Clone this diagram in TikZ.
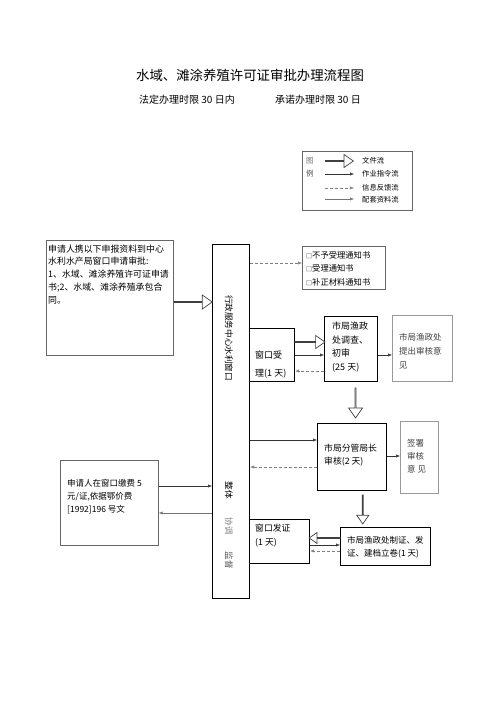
\documentclass[tikz,border=0pt]{standalone}
\usepackage{fontspec}
\setmainfont{Noto Sans CJK SC}
\usetikzlibrary{arrows.meta,shapes.arrows,calc}
\newcommand\myfs[2]{\fontsize{#1}{#2}\selectfont}
\newcommand\sqbox{{\fontsize{6}{6}\selectfont □}}
\begin{document}
\begin{tikzpicture}[x=1pt,y=-1pt,
 box/.style={draw=black, line width=1.1pt, inner sep=0pt, anchor=north west},
 gbox/.style={draw=black!60, line width=0.7pt, inner sep=0pt, anchor=north west},
 lbox/.style={draw=black!40, line width=0.7pt, inner sep=0pt, anchor=north west},
 txt/.style={anchor=north west, inner sep=0pt, align=left, text=black},
 lbl/.style={anchor=west, inner sep=0pt, text=black},
 flow/.style={draw=black!80, line width=0.5pt, -{Latex[length=4pt,width=3.2pt]}},
 fb/.style={draw=black!50, line width=0.5pt, dash pattern=on 3pt off 2pt, -{Latex[length=4pt,width=3.2pt]}},
 mat/.style={draw=black!55, line width=0.5pt, -{Latex[length=4pt,width=3.2pt]}},
 hollow/.style={single arrow, draw=black!75, line width=0.7pt, fill=white, inner sep=0pt,
   minimum width=13pt, single arrow head extend=4pt, single arrow tip angle=70,
   single arrow head indent=0pt},
]
\useasboundingbox (0,0) rectangle (500,708);

% helper heights
\foreach \h in {161,174,188,198,263,302,342,355,371,440,456,467,486,513,538,545,551}
  {\coordinate (Y\h) at (0,\h);}

% title
\node[font=\myfs{13.4}{16}, text=black] (title) at (250,75) {水域、滩涂养殖许可证审批办理流程图};
\node[lbl, font=\myfs{10}{12}] (st1) at (139,100) {法定办理时限 30 日内};
\node[lbl, font=\myfs{10}{12}] (st2) at (275,100) {承诺办理时限 30 日};

% legend
\node[gbox, minimum width=110pt, minimum height=59pt] (leg) at (302,151) {};
\node[lbl, font=\myfs{7.5}{9}, text=black!55] (lg1) at (306,161) {图};
\node[lbl, font=\myfs{7.5}{9}, text=black!70] (lg2) at (306,174) {例};
\node[hollow, minimum height=28pt, minimum width=13pt] (lga) at (339,161) {};
\coordinate (l2a) at (325,174); \coordinate (l2b) at (354,174);
\coordinate (l3a) at (325,188); \coordinate (l3b) at (354,188);
\coordinate (l4a) at (325,199); \coordinate (l4b) at (354,199);
\draw[flow] (l2a) -- (l2b);
\draw[fb] (l3a) -- (l3b);
\draw[mat] (l4a) -- (l4b);
\node[lbl, font=\myfs{7.3}{9}] (lt1) at (362,161) {文件流};
\node[lbl, font=\myfs{7.3}{9}] (lt2) at (362,174) {作业指令流};
\node[lbl, font=\myfs{7.3}{9}] (lt3) at (362,188) {信息反馈流};
\node[lbl, font=\myfs{7.3}{9}] (lt4) at (362,200) {配套资料流};

% left box 1
\node[gbox, minimum width=127pt, minimum height=115pt] (b1) at (46,240) {};
\node[txt, font=\myfs{8.9}{12.8}] (t1) at (48,244.5)
 {申请人携以下申报资料到中心\\水利水产局窗口申请审批:\\1、水域、滩涂养殖许可证申请\\书;2、水域、滩涂养殖承包合\\同。};

% central bar
\node[box, minimum width=37pt, minimum height=354pt] (bar) at (212,244) {};
\node[rotate=-90, inner sep=0pt, font=\myfs{8.6}{10}, text=black] (bt) at (229,338) {行政服务中心水利窗口};
\node[rotate=-90, inner sep=0pt, font=\myfs{8.6}{10}, text=black] (bt2) at (229,490) {整体};
\node[rotate=-90, inner sep=0pt, font=\myfs{8.6}{10}, text=black!50] (bt3) at (229,526) {协调};
\node[rotate=-90, inner sep=0pt, font=\myfs{8.6}{10}, text=black!65] (bt4) at (229,560) {监督};

% notices
\node[gbox, minimum width=83pt, minimum height=43pt] (nt) at (302,246) {};
\node[txt, font=\myfs{8.3}{13.5}] (ntt) at (306,250.9)
 {\sqbox 不予受理通知书\\\sqbox 受理通知书\\\sqbox 补正材料通知书};

% window accept
\node[box, minimum width=45pt, minimum height=53pt] (acc) at (249,328) {};
\node[txt, font=\myfs{9}{18}] (acct) at (255,350.5) {窗口受\\理(1 天)};

% investigation
\node[box, minimum width=53pt, minimum height=65pt] (inv) at (324,316) {};
\node[txt, font=\myfs{9}{13.8}] (invt) at (332,321.5) {市局渔政\\处调查、\\初审\\(25 天)};

% opinion
\node[lbox, minimum width=60pt, minimum height=66pt] (op) at (392,315) {};
\node[txt, font=\myfs{8.5}{14}, text=black!75] (opt) at (399,332.8) {市局渔政处\\提出审核意\\见};

% director
\node[box, minimum width=69pt, minimum height=67pt] (dir) at (317,423) {};
\node[txt, font=\myfs{8.8}{13}] (dirt) at (324,443.6) {市局分管局长\\审核(2 天)};

% sign
\node[lbox, minimum width=38pt, minimum height=72pt] (sign) at (400,421) {};
\node[txt, font=\myfs{8.5}{13}, text=black!75] (signt) at (407,438.8) {签署\\审核\\意 见};

% make certificate
\node[box, minimum width=90pt, minimum height=38pt] (make) at (340,527) {};
\node[txt, font=\myfs{8.5}{13}] (maket) at (347,535.8) {市局渔政处制证、发\\证、建档立卷(1 天)};

% issue
\node[box, minimum width=60pt, minimum height=44pt] (issue) at (249,519) {};
\node[txt, font=\myfs{8.8}{14.5}] (issuet) at (255,523.6) {窗口发证\\(1 天)};

% left box 2
\node[gbox, minimum width=98pt, minimum height=85pt] (b2) at (60,460) {};
\node[txt, font=\myfs{8.5}{13}] (b2t) at (67,478.8) {申请人在窗口缴费 5\\元/证,依据鄂价费\\{}[1992]196 号文};

% connectors
\node[hollow, minimum height=38pt, minimum width=14pt] (h1) at ($(b1.east |- Y302)!.5!(bar.west |- Y302)$) {};
\draw[fb] (bar.east |- Y263) -- (nt.west |- Y263);
\node[hollow, minimum height=30pt] (h2) at ($(acc.east |- Y342)!.5!(inv.west |- Y342)$) {};
\draw[flow] (acc.east |- Y355) -- (inv.west |- Y355);
\draw[fb] (inv.west |- Y371) -- (acc.east |- Y371);
\draw[flow] (inv.east |- Y355) -- (op.west |- Y355);
\node[hollow, minimum height=30pt, minimum width=14pt, rotate=-90] (h3) at ($(inv.south)!.5!(dir.north)+(4,0)$) {};
\draw[flow] (bar.east |- Y440) -- (dir.west |- Y440);
\draw[fb] (dir.west |- Y467) -- (bar.east |- Y467);
\draw[flow] (dir.east |- Y456) -- (sign.west |- Y456);
\node[hollow, minimum height=29pt, minimum width=12pt, rotate=-90] (h4) at ($(dir.south)!.5!(make.north)+(-6,0)$) {};
\node[hollow, minimum height=31pt, minimum width=11pt, rotate=180] (h5) at ($(make.west |- Y538)!.5!(issue.east |- Y538)$) {};
\draw[flow] (issue.east |- Y545) -- (make.west |- Y545);
\draw[fb] (make.west |- Y551) -- (issue.east |- Y551);
\draw[flow] (b2.east |- Y486) -- (bar.west |- Y486);
\draw[mat] (bar.west |- Y513) -- (b2.east |- Y513);
\end{tikzpicture}
\end{document}
